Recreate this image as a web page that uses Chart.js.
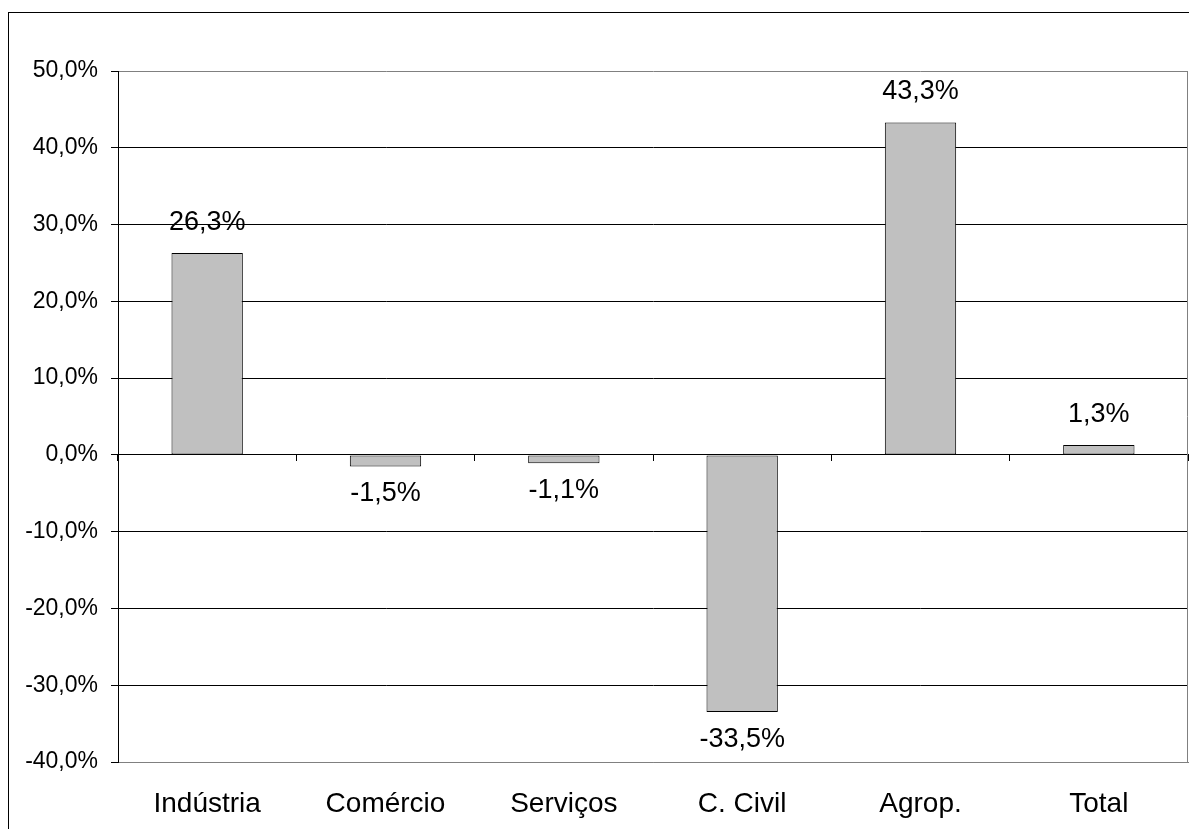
<!DOCTYPE html>
<html>
<head>
<meta charset="utf-8">
<script src="https://cdn.jsdelivr.net/npm/chart.js@4/dist/chart.umd.min.js"></script>
<style>
  html, body { margin: 0; padding: 0; background: #fff; overflow: hidden; }
  #wrap { position: relative; width: 1189px; height: 829px; }
  #frame { position: absolute; left: 8px; top: 12px; width: 1400px; height: 1000px; border: 1px solid #000; box-sizing: border-box; pointer-events: none; }
  canvas { position: absolute; left: 0; top: 0; }
</style>
</head>
<body>
<div id="wrap">
  <div id="frame"></div>
  <canvas id="c" width="1189" height="829"></canvas>
</div>
<script>
const categories = ["Indústria", "Comércio", "Serviços", "C. Civil", "Agrop.", "Total"];
const values = [26.3, -1.5, -1.1, -33.5, 43.3, 1.3];
const yMin = -40;
const yMax = 50;
const yStep = 10;

const fmt = v => v.toFixed(1).replace('.', ',') + '%';
const FONT = '"Liberation Sans", Arial, sans-serif';

const labelPlugin = {
  id: 'valueLabels',
  afterDatasetsDraw(chart) {
    const ctx = chart.ctx;
    const meta = chart.getDatasetMeta(0);
    ctx.save();
    ctx.font = '27px ' + FONT;
    ctx.fillStyle = '#000';
    ctx.textAlign = 'center';
    ctx.textBaseline = 'alphabetic';
    meta.data.forEach((bar, i) => {
      const v = values[i];
      const y = v >= 0 ? bar.y - 23 : bar.y + 35;
      ctx.fillText(fmt(v), bar.x, y);
    });
    ctx.restore();
  }
};

const borderPlugin = {
  id: 'plotBorder',
  afterDraw(chart) {
    const a = chart.chartArea;
    const ctx = chart.ctx;
    ctx.save();
    ctx.strokeStyle = '#808080';
    ctx.lineWidth = 1;
    ctx.beginPath();
    ctx.moveTo(Math.round(a.right) - 0.5, a.top);
    ctx.lineTo(Math.round(a.right) - 0.5, a.bottom);
    ctx.stroke();
    ctx.restore();
  }
};

new Chart(document.getElementById('c'), {
  type: 'bar',
  data: {
    labels: categories,
    datasets: [{
      data: values,
      backgroundColor: '#c0c0c0',
      borderColor: '#000',
      borderWidth: 1,
      borderSkipped: false,
      barPercentage: 0.4,
      categoryPercentage: 1.0,
      xAxisID: 'x',
      yAxisID: 'y'
    }]
  },
  options: {
    responsive: false,
    animation: false,
    events: [],
    layout: { padding: { left: 0, top: 71, right: 1, bottom: 0 } },
    plugins: { legend: { display: false }, tooltip: { enabled: false } },
    scales: {
      x: {
        type: 'category',
        position: 'bottom',
        offset: true,
        grid: { display: false },
        border: { display: true, color: '#808080' },
        ticks: { font: { family: FONT, size: 28 }, color: '#000', padding: 17, maxRotation: 0 },
        afterFit(s) { s.height = 67; }
      },
      x2: {
        type: 'category',
        labels: categories,
        position: { y: 0 },
        offset: true,
        grid: { display: true, drawOnChartArea: false, drawTicks: true, tickLength: 6, color: '#000', offset: true },
        border: { display: true, color: '#000' },
        ticks: { display: false }
      },
      y: {
        min: yMin,
        max: yMax,
        ticks: {
          stepSize: yStep,
          callback: v => fmt(v),
          font: { family: FONT, size: 23 },
          color: '#000',
          padding: 13
        },
        grid: {
          color: c => (c.tick && (c.tick.value === yMax || c.tick.value === yMin)) ? '#808080' : '#000',
          tickColor: '#000',
          tickLength: 7,
          lineWidth: 1
        },
        border: { display: true, color: '#000' },
        afterFit(s) { s.width = 118; }
      }
    }
  },
  plugins: [labelPlugin, borderPlugin]
});
</script>
</body>
</html>
